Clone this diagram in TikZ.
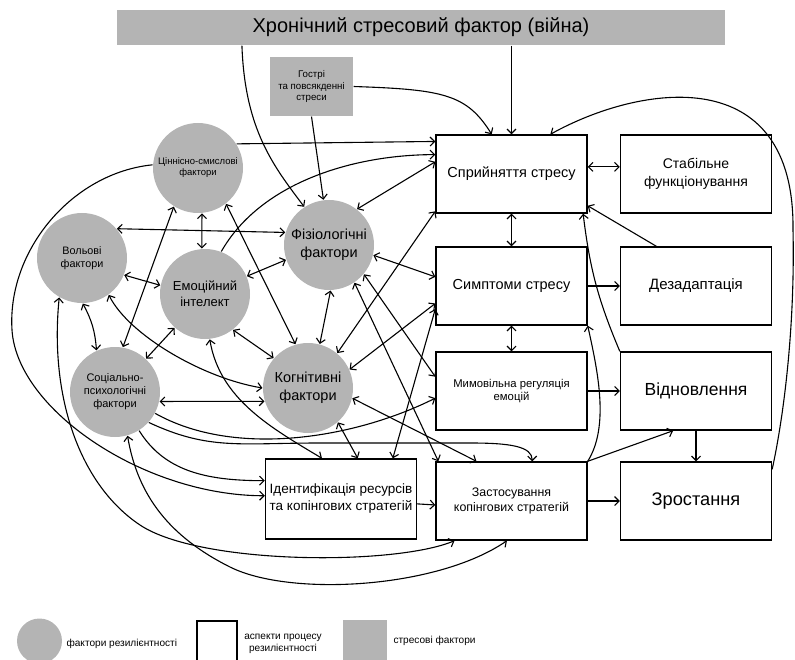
\documentclass[tikz,border=0pt]{standalone}
\usepackage{fontspec}
\setmainfont{Liberation Sans}
\usetikzlibrary{arrows.meta,calc}
\definecolor{fgray}{RGB}{180,180,180}
\begin{document}
\begin{tikzpicture}[x=1pt,y=-1pt,
  >={Straight Barb[length=4.5pt,width=9pt]},
  fac/.style={circle, fill=fgray, draw=none, minimum size=90pt, inner sep=0pt, align=center},
  asp/.style={rectangle, draw=black, line width=1.4pt, fill=white, minimum width=151pt, minimum height=78pt, inner sep=0pt, align=center},
  stf/.style={rectangle, fill=fgray, draw=none, inner sep=0pt, align=center},
  lbl/.style={inner sep=0pt, align=center},
  every path/.style={line width=1.1pt}]
\useasboundingbox (0,0) rectangle (795,660);

% stressors
\node[stf, minimum width=608pt, minimum height=35pt, font=\fontsize{20}{23}\selectfont] (bar) at (421,27.5) {Хронічний стресовий фактор (війна)};
\node[stf, minimum width=83pt, minimum height=59pt, font=\fontsize{9.7}{11.5}\selectfont] (go) at (311.5,86.5) {Гострі\\та повсякденні\\стреси};

% resilience factors
\node[fac, font=\fontsize{9.5}{11}\selectfont] (cs) at (198,168) {Ціннісно-смислові\\фактори};
\node[fac, font=\fontsize{10.8}{13}\selectfont] (vo) at (82,258) {Вольові\\фактори};
\node[fac, font=\fontsize{13}{16}\selectfont] (em) at (205,294) {Емоційний\\інтелект};
\node[fac, font=\fontsize{14.5}{17.5}\selectfont] (fi) at (329,245) {Фізіологічні\\фактори};
\node[fac, font=\fontsize{11}{13}\selectfont] (so) at (115,392) {Соціально-\\психологічні\\фактори};
\node[fac, font=\fontsize{14.5}{17.5}\selectfont] (ko) at (308,388) {Когнітивні\\фактори};

% process aspects
\node[asp, font=\fontsize{14.5}{17}\selectfont] (sp) at (511.5,174) {Сприйняття стресу};
\node[asp, font=\fontsize{14}{18}\selectfont] (st) at (696,174) {Стабільне\\функціонування};
\node[asp, font=\fontsize{14.5}{17}\selectfont] (sy) at (511.5,286) {Симптоми стресу};
\node[asp, font=\fontsize{15}{18}\selectfont] (de) at (696,286) {Дезадаптація};
\node[asp, font=\fontsize{11.3}{13.5}\selectfont] (mm) at (511.5,391) {Мимовільна регуляція\\емоцій};
\node[asp, font=\fontsize{17.5}{20}\selectfont] (vi) at (696,391) {Відновлення};
\node[asp, minimum height=80pt, font=\fontsize{13.5}{17}\selectfont] (id) at (341,499) {Ідентифікація ресурсів\\та копінгових стратегій};
\node[asp, font=\fontsize{12.4}{15}\selectfont] (za) at (511.5,501) {Застосування\\копінгових стратегій};
\node[asp, font=\fontsize{18.2}{21}\selectfont] (zr) at (696,501) {Зростання};

% legend
\node[fac, minimum size=45pt] (lc) at (39.5,641) {};
\node[lbl, anchor=west, font=\fontsize{10.1}{12}\selectfont] (lct) at (66,644) {фактори резилієнтності};
\node[asp, minimum width=40pt, minimum height=41pt] (lb) at (217,641.5) {};
\node[lbl, font=\fontsize{10.1}{12.5}\selectfont] (lbt) at (283,644) {аспекти процесу\\резилієнтності};
\node[stf, minimum width=44pt, minimum height=42pt] (lg) at (365,641) {};
\node[lbl, anchor=west, font=\fontsize{10.1}{12}\selectfont] (lgt) at (393,641) {стресові фактори};

% stressor arrows
\draw[->] ($(bar.south west)!0.206!(bar.south east)$) .. controls +(3,85) and +(-30,-40) .. (fi.123);
\draw[->] (sp.north |- bar.south) -- (sp.north);
\draw[->] (go.south) -- (fi.97);
\draw[->] (go.east) .. controls +(90,3) and +(-25,-40) .. ($(sp.north west)!0.37!(sp.north east)$);

% from Ціннісно-смислові
\draw[->] (cs.32) -- ($(sp.north west)!0.09!(sp.south west)$);
\draw[->] (cs.176) .. controls +(-80,8) and +(-5,-80) .. (12,330) .. controls +(5,80) and +(-120,0) .. ($(id.north west)!0.46!(id.south west)$);
\draw[<->] (cs.275) -- (em.94);
\draw[<->] (cs.308) -- (ko.106);

% from Вольові
\draw[<->] (vo.240) .. controls +(-10,100) and +(-60,-40) .. (140,525) .. controls +(60,40) and +(-60,25) .. ($(za.south west)!0.126!(za.south east)$);
\draw[<->] (vo.40) -- (fi.164);
\draw[<->] (vo.338) -- (em.169);
\draw[<->] (vo.306) .. controls +(20,40) and +(-60,-10) .. (ko.180);
\draw[<->] (vo.271) to[bend left=12] (so.114);

% from Соціально-психологічні
\draw[<->] (so.80) -- (cs.238);
\draw[<->] (so.47) -- (em.228);
\draw[<->] (so.-12) -- (ko.197);
\draw[<->] (so.286) .. controls +(10,60) and +(-60,-30) .. (230,567) .. controls +(60,30) and +(-70,48) .. ($(za.south west)!0.47!(za.south east)$);
\draw[->] (so.302) .. controls +(25,40) and +(-60,0) .. ($(id.north west)!0.275!(id.south west)$);
\draw[->] (so.332) .. controls +(80,45) and +(-80,40) .. ($(mm.north west)!0.59!(mm.south west)$);
\draw[->] (so.318) .. controls +(60,28) and +(-80,0) .. (320,443) -- (470,443) .. controls +(40,0) and +(0,-15) .. ($(za.north west)!0.636!(za.north east)$);

% from Емоційний інтелект
\draw[->] (em.69) .. controls +(40,-70) and +(-80,0) .. ($(sp.north west)!0.256!(sp.south west)$);
\draw[<->] (em.23) -- (fi.199);
\draw[<->] (em.308) -- (ko.139);
\draw[<->] (em.276) .. controls +(10,60) and +(-50,-30) .. ($(id.north west)!0.375!(id.north east)$);

% from Фізіологічні
\draw[<->] (fi.52) -- ($(sp.north west)!0.346!(sp.south west)$);
\draw[<->] (fi.347) -- ($(sy.north west)!0.385!(sy.south west)$);
\draw[<->] (fi.272) -- (ko.75);
\draw[<->] (fi.320) -- ($(mm.north west)!0.32!(mm.south west)$);
\draw[<->] (fi.304) -- ($(za.north west)!0.02!(za.north east)$);

% from Когнітивні
\draw[<->] (ko.50) -- ($(sp.north west)!0.97!(sp.south west)$);
\draw[<->] (ko.24) -- ($(sy.north west)!0.72!(sy.south west)$);
\draw[<->] (ko.347) -- ($(za.north west)!0.27!(za.north east)$);
\draw[<->] (ko.311) -- ($(id.north west)!0.61!(id.north east)$);
\draw[<->] ($(id.north west)!0.84!(id.north east)$) -- ($(sy.north west)!0.79!(sy.south west)$);

% process arrows
\draw[<->] ($(sp.north east)!0.41!(sp.south east)$) -- ($(st.north west)!0.41!(st.south west)$);
\draw[<->] (sp.south) -- (sy.north);
\draw[<->] (sy.south) -- (mm.north);
\draw[->] (sy.east) -- (de.west);
\draw[->] (mm.east) -- (vi.west);
\draw[->] ($(de.north west)!0.24!(de.north east)$) -- ($(sp.north east)!0.9!(sp.south east)$);
\draw[->] (vi.north west) to[bend left=8] ($(sp.south west)!0.97!(sp.south east)$);
\draw[->] (za.north east) .. controls +(22,-35) and +(10,45) .. (sy.south east);
\draw[->] (za.north east) -- ($(vi.south west)!0.35!(vi.south east)$);
\draw[->] (vi.south) -- (zr.north);
\draw[->] (za.east) -- (zr.west);
\draw[->] ($(id.north east)!0.56!(id.south east)$) -- ($(za.north west)!0.55!(za.south west)$);
\draw[->] ($(zr.north east)!0.1!(zr.south east)$) .. controls +(13,-60) and +(2,90) .. (793,230) .. controls +(2,-170) and +(90,-50) .. ($(sp.north west)!0.755!(sp.north east)$);
\end{tikzpicture}
\end{document}
